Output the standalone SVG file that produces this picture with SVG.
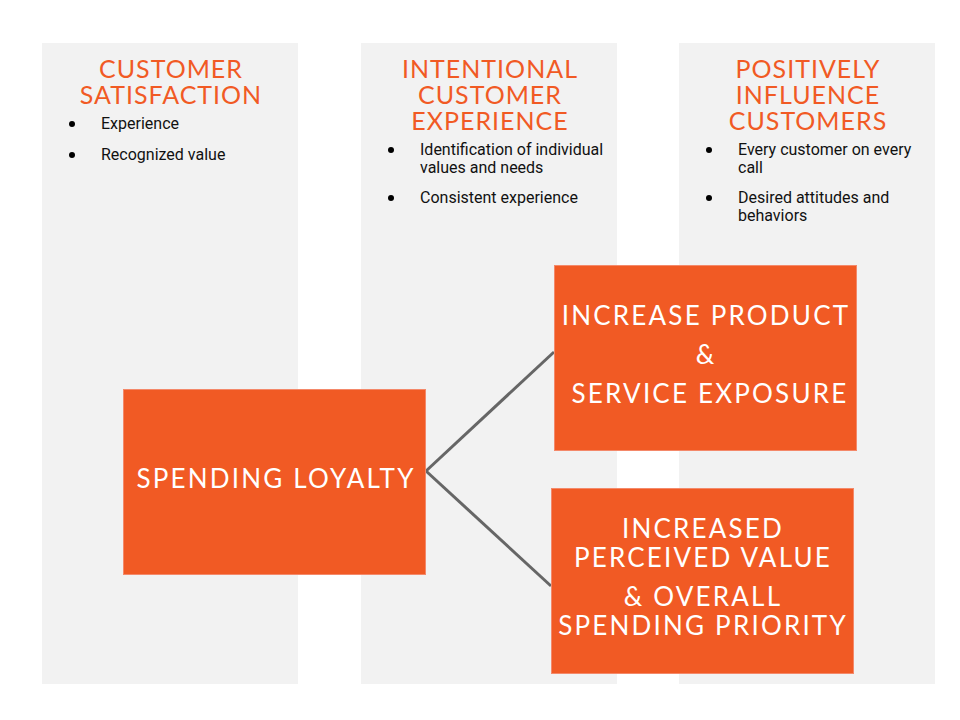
<svg xmlns="http://www.w3.org/2000/svg" width="960" height="720" viewBox="0 0 960 720">
<style>
.col{fill:#f2f2f2}
.hd{font-family:Lato,"Liberation Sans",sans-serif;font-size:25px;fill:#f15a24;text-anchor:middle;letter-spacing:1px}
.bl{font-family:Roboto,"Liberation Sans",sans-serif;font-size:16px;fill:#111111}
.box{fill:#f15a24;stroke:#f4896a;stroke-width:1}
.bt{font-family:Lato,"Liberation Sans",sans-serif;font-size:26px;fill:#ffffff;text-anchor:middle;letter-spacing:2.2px}
.con{stroke:#666666;stroke-width:3;fill:none}
</style>
<rect width="960" height="720" fill="#ffffff"/>
<g id="col1">
<rect class="col" x="42" y="43" width="256" height="641"/>
<text class="hd" x="171" y="78">CUSTOMER</text>
<text class="hd" x="171" y="104">SATISFACTION</text>
<circle cx="72" cy="124" r="3" fill="#000"/>
<text class="bl" x="101" y="129">Experience</text>
<circle cx="72" cy="155" r="3" fill="#000"/>
<text class="bl" x="101" y="160">Recognized value</text>
</g>
<g id="col2">
<rect class="col" x="361" y="43" width="256" height="641"/>
<text class="hd" x="490" y="78">INTENTIONAL</text>
<text class="hd" x="490" y="104">CUSTOMER</text>
<text class="hd" x="490" y="130">EXPERIENCE</text>
<circle cx="391" cy="150" r="3" fill="#000"/>
<text class="bl" x="420" y="155">Identification of individual</text>
<text class="bl" x="420" y="173">values and needs</text>
<circle cx="391" cy="198" r="3" fill="#000"/>
<text class="bl" x="420" y="203">Consistent experience</text>
</g>
<g id="col3">
<rect class="col" x="679" y="43" width="256" height="641"/>
<text class="hd" x="808" y="78">POSITIVELY</text>
<text class="hd" x="808" y="104">INFLUENCE</text>
<text class="hd" x="808" y="130">CUSTOMERS</text>
<circle cx="709" cy="150" r="3" fill="#000"/>
<text class="bl" x="738" y="155">Every customer on every</text>
<text class="bl" x="738" y="173">call</text>
<circle cx="709" cy="198" r="3" fill="#000"/>
<text class="bl" x="738" y="203">Desired attitudes and</text>
<text class="bl" x="738" y="221">behaviors</text>
</g>
<g id="connectors">
<line class="con" x1="426" y1="471" x2="554" y2="352"/>
<line class="con" x1="426" y1="471" x2="551" y2="586"/>
</g>
<g id="spending-loyalty">
<rect class="box" x="123.5" y="389.5" width="302" height="185"/>
<text class="bt" x="276" y="488">SPENDING LOYALTY</text>
</g>
<g id="increase-product">
<rect class="box" x="554.5" y="265.5" width="302" height="185"/>
<text class="bt" x="706" y="325">INCREASE PRODUCT</text>
<text class="bt" x="706" y="364">&amp;</text>
<text class="bt" x="710" y="403">SERVICE EXPOSURE</text>
</g>
<g id="increased-value">
<rect class="box" x="551.5" y="488.5" width="302" height="185"/>
<text class="bt" x="703" y="538">INCREASED</text>
<text class="bt" x="703" y="567">PERCEIVED VALUE</text>
<text class="bt" x="703" y="606">&amp; OVERALL</text>
<text class="bt" x="703" y="635">SPENDING PRIORITY</text>
</g>
</svg>
